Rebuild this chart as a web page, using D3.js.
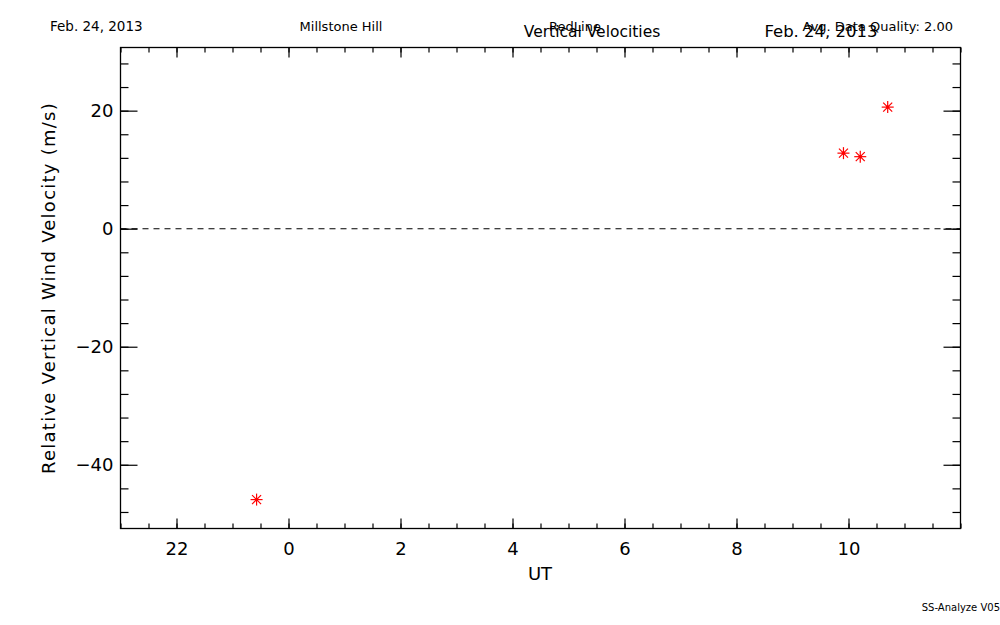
<!DOCTYPE html>
<html><head><meta charset="utf-8">
<script src="https://cdn.jsdelivr.net/npm/d3@7"></script>
<style>body{margin:0;background:#fff}svg{display:block}text{font-family:"DejaVu Sans",sans-serif;fill:#000}</style>
</head><body><svg id="c" width="1000" height="625"></svg>
<script>
// Data (UT hours relative to midnight of Feb 24; negative = previous day)
const utHours = [-0.57, 9.91, 10.21, 10.70];
const velocities = [-45.9, 12.8, 12.2, 20.6];
const xTickValues = [-2, 0, 2, 4, 6, 8, 10];
const yTickValues = [-40, -20, 0, 20];
const headerTexts = ["Feb. 24, 2013", "Millstone Hill", "RedLine", "Avg. Data Quality: 2.00"];

const svg = d3.select("#c");
const L = 120.5, R = 960.5, T = 47.5, B = 528.5;
const x = d3.scaleLinear().domain([-3, 12]).range([L, R]);
const y = d3.scaleLinear().domain([-50.8, 30.7]).range([B, T]);

const hourLabel = d => String(((d % 24) + 24) % 24);

// frame
svg.append("rect").attr("x", L).attr("y", T).attr("width", R - L).attr("height", B - T)
  .attr("fill", "none").attr("stroke", "#000").attr("stroke-width", 1.3);

const xMinor = d3.range(-3, 12.01, 0.5);
const yMinor = d3.range(-48, 30.01, 4);

// bottom axis
svg.append("g").attr("transform", `translate(0,${B})`)
  .call(d3.axisBottom(x).tickValues(xTickValues).tickFormat(hourLabel).tickSize(-10).tickPadding(14));
svg.append("g").attr("transform", `translate(0,${B})`)
  .call(d3.axisBottom(x).tickValues(xMinor).tickFormat("").tickSize(-5));
// top axis
svg.append("g").attr("transform", `translate(0,${T})`)
  .call(d3.axisTop(x).tickValues(xTickValues).tickFormat("").tickSize(-10));
svg.append("g").attr("transform", `translate(0,${T})`)
  .call(d3.axisTop(x).tickValues(xMinor).tickFormat("").tickSize(-5));
// left axis
svg.append("g").attr("transform", `translate(${L},0)`)
  .call(d3.axisLeft(y).tickValues(yTickValues).tickFormat(d => d < 0 ? "\u2212" + Math.abs(d) : d).tickSize(-17).tickPadding(7));
svg.append("g").attr("transform", `translate(${L},0)`)
  .call(d3.axisLeft(y).tickValues(yMinor).tickFormat("").tickSize(-8));
// right axis
svg.append("g").attr("transform", `translate(${R},0)`)
  .call(d3.axisRight(y).tickValues(yTickValues).tickFormat("").tickSize(-17));
svg.append("g").attr("transform", `translate(${R},0)`)
  .call(d3.axisRight(y).tickValues(yMinor).tickFormat("").tickSize(-8));

svg.selectAll(".domain").remove();
svg.selectAll(".tick line").attr("stroke", "#000").attr("stroke-width", 1.2);
svg.selectAll(".tick text").attr("font-size", 18).attr("fill", "#000").attr("font-family", "DejaVu Sans, sans-serif");

// zero line
svg.append("line").attr("x1", L).attr("x2", R).attr("y1", y(0)).attr("y2", y(0))
  .attr("stroke", "#000").attr("stroke-width", 1.1).attr("stroke-dasharray", "6,5");

// star markers
const pts = utHours.map((h, i) => ({h, v: velocities[i]}));
const s = 6;
const star = svg.append("g").selectAll("g").data(pts).join("g")
  .attr("transform", d => `translate(${x(d.h)},${y(d.v)})`);
[[0, -s, 0, s], [-s, 0, s, 0], [-s*0.75, -s*0.75, s*0.75, s*0.75], [-s*0.75, s*0.75, s*0.75, -s*0.75]].forEach(a => {
  star.append("line").attr("x1", a[0]).attr("y1", a[1]).attr("x2", a[2]).attr("y2", a[3])
    .attr("stroke", "#ff0000").attr("stroke-width", 1.2);
});
star.append("circle").attr("r", 1.8).attr("fill", "#ff0000");

// titles
svg.append("text").attr("x", 50).attr("y", 31).attr("font-size", 13.5).text(headerTexts[0]);
svg.append("text").attr("x", 341).attr("y", 31).attr("font-size", 13).attr("text-anchor", "middle").text(headerTexts[1]);
svg.append("text").attr("x", 575).attr("y", 31).attr("font-size", 13).attr("text-anchor", "middle").text(headerTexts[2]);
svg.append("text").attr("x", 953).attr("y", 31).attr("font-size", 13).attr("text-anchor", "end").text(headerTexts[3]);
svg.append("text").attr("x", 592).attr("y", 37).attr("font-size", 15.5).attr("text-anchor", "middle").text("Vertical Velocities");
svg.append("text").attr("x", 821).attr("y", 37).attr("font-size", 16.5).attr("text-anchor", "middle").text("Feb. 24, 2013");

// axis labels
svg.append("text").attr("x", 540).attr("y", 580).attr("font-size", 18).attr("text-anchor", "middle").text("UT");
svg.append("text").attr("transform", "translate(55,288) rotate(-90)").attr("font-size", 18)
  .attr("letter-spacing", 1.25).attr("text-anchor", "middle").text("Relative Vertical Wind Velocity (m/s)");
svg.append("text").attr("x", 1000).attr("y", 611).attr("font-size", 10).attr("text-anchor", "end").text("SS-Analyze V05");
</script></body></html>
